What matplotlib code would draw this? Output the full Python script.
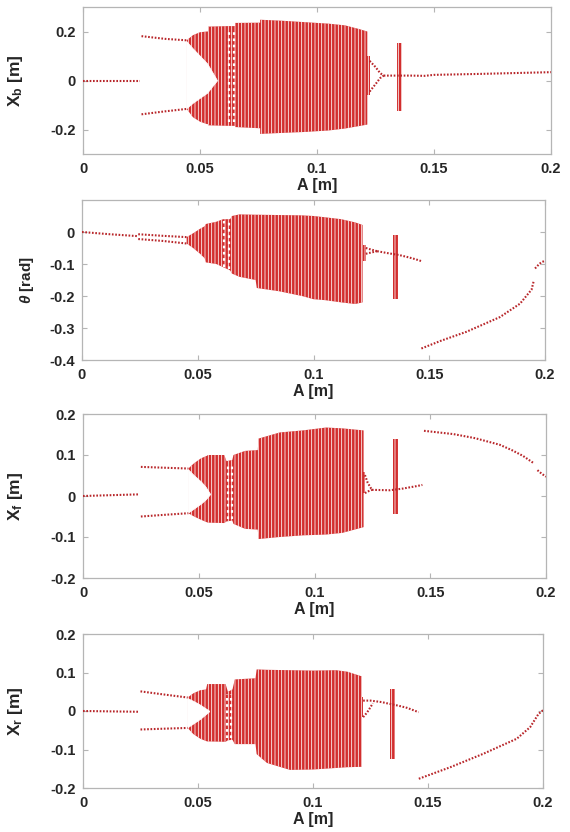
import matplotlib
matplotlib.use("Agg")
import matplotlib.pyplot as plt
import numpy as np

plt.rcParams['font.family'] = ['Liberation Sans', 'DejaVu Sans']
plt.rcParams['font.weight'] = 'bold'
plt.rcParams['mathtext.fontset'] = 'custom'
plt.rcParams['mathtext.rm'] = 'Liberation Sans:bold'
plt.rcParams['mathtext.it'] = 'Liberation Sans:italic'
plt.rcParams['mathtext.bf'] = 'Liberation Sans:bold'
plt.rcParams['hatch.color'] = 'white'
plt.rcParams['hatch.linewidth'] = 0.55

RED = '#d22e2e'
DOT = '#b8262a'
FRAME = '#b5b5b5'
TXT = '#262626'

X_TICKS = [0, 0.05, 0.1, 0.15, 0.2]
X_TICKLABELS = ['0', '0.05', '0.1', '0.15', '0.2']

# ---------------- Panel 1: X_b ----------------
XB_LABEL = r'X$_{\mathrm{b}}$ [m]'
XB_YLIM = (-0.3, 0.3)
XB_YTICKS = [-0.2, 0, 0.2]
XB_YTICKLABELS = ['-0.2', '0', '0.2']
XB_BAND_A = [0.0443, 0.047, 0.050, 0.053, 0.0535, 0.0535, 0.062, 0.065, 0.065, 0.0757, 0.0757, 0.085, 0.095, 0.105, 0.112, 0.118, 0.1215]
XB_BAND_HI = [0.164, 0.185, 0.197, 0.200, 0.200, 0.220, 0.222, 0.222, 0.235, 0.236, 0.248, 0.244, 0.238, 0.232, 0.225, 0.210, 0.200]
XB_BAND_LO = [-0.116, -0.150, -0.168, -0.178, -0.178, -0.183, -0.185, -0.185, -0.190, -0.195, -0.218, -0.214, -0.210, -0.204, -0.196, -0.186, -0.180]
XB_NOTCH_A = [0.0440, 0.047, 0.050, 0.053, 0.0555, 0.0572]
XB_NOTCH_HI = [0.162, 0.130, 0.100, 0.070, 0.030, 0.002]
XB_NOTCH_LO = [-0.114, -0.090, -0.070, -0.050, -0.020, 0.000]
XB_SPECKLE_A = [0.0625, 0.0645]
XB_SPECKLE_LO = [-0.17, -0.17]
XB_SPECKLE_HI = [0.21, 0.21]
XB_COLS_A = [[0.1212, 0.1228], [0.1340, 0.1365]]
XB_COLS_LO = [-0.06, -0.125]
XB_COLS_HI = [0.10, 0.155]
XB_BRANCHES = [
    ([0.0, 0.0245], [0.0, 0.0]),
    ([0.0250, 0.035, 0.0443], [0.181, 0.170, 0.164]),
    ([0.0250, 0.035, 0.0443], [-0.138, -0.126, -0.116]),
    ([0.1225, 0.125, 0.127, 0.1285], [0.080, 0.055, 0.030, 0.020]),
    ([0.1225, 0.125, 0.127, 0.1285], [-0.045, -0.015, 0.010, 0.020]),
    ([0.1285, 0.14, 0.146, 0.15, 0.17, 0.2], [0.020, 0.020, 0.019, 0.023, 0.027, 0.034]),
]

# ---------------- Panel 2: theta ----------------
TH_LABEL = r'$\theta$ [rad]'
TH_YLIM = (-0.4, 0.1)
TH_YTICKS = [-0.4, -0.3, -0.2, -0.1, 0]
TH_YTICKLABELS = ['-0.4', '-0.3', '-0.2', '-0.1', '0']
TH_BAND_A = [0.0452, 0.048, 0.051, 0.053, 0.0535, 0.058, 0.061, 0.064, 0.0648, 0.068, 0.075, 0.0755, 0.085, 0.095, 0.100, 0.105, 0.112, 0.118, 0.1212]
TH_BAND_HI = [-0.016, -0.004, 0.010, 0.018, 0.025, 0.032, 0.040, 0.040, 0.050, 0.055, 0.054, 0.054, 0.053, 0.052, 0.050, 0.046, 0.040, 0.030, 0.022]
TH_BAND_LO = [-0.036, -0.050, -0.068, -0.082, -0.095, -0.100, -0.110, -0.120, -0.130, -0.140, -0.150, -0.175, -0.185, -0.200, -0.210, -0.213, -0.220, -0.225, -0.220]
TH_NOTCH_A = []
TH_NOTCH_HI = []
TH_NOTCH_LO = []
TH_SPECKLE_A = [0.0615, 0.0635]
TH_SPECKLE_LO = [-0.11, -0.115]
TH_SPECKLE_HI = [0.035, 0.035]
TH_COLS_A = [[0.1212, 0.1226], [0.1343, 0.1365]]
TH_COLS_LO = [-0.090, -0.210]
TH_COLS_HI = [-0.042, -0.010]
TH_BRANCHES = [
    ([0.0, 0.012, 0.0243], [0.0, -0.007, -0.013]),
    ([0.0243, 0.035, 0.0452], [-0.007, -0.012, -0.016]),
    ([0.0243, 0.035, 0.0452], [-0.022, -0.028, -0.036]),
    ([0.1226, 0.125, 0.1275], [-0.050, -0.055, -0.060]),
    ([0.1226, 0.125, 0.1275], [-0.068, -0.064, -0.060]),
    ([0.1275, 0.132, 0.137, 0.141, 0.144, 0.1466], [-0.060, -0.066, -0.072, -0.079, -0.085, -0.091]),
    ([0.1466, 0.155, 0.166, 0.1805, 0.1892, 0.1942, 0.1952], [-0.364, -0.340, -0.312, -0.266, -0.224, -0.180, -0.151]),
    ([0.1957, 0.1975, 0.1986, 0.2], [-0.114, -0.100, -0.094, -0.090]),
]

# ---------------- Panel 3: X_f ----------------
XF_LABEL = r'X$_{\mathrm{f}}$ [m]'
XF_YLIM = (-0.2, 0.2)
XF_YTICKS = [-0.2, -0.1, 0, 0.1, 0.2]
XF_YTICKLABELS = ['-0.2', '-0.1', '0', '0.1', '0.2']
XF_BAND_A = [0.0455, 0.048, 0.051, 0.0535, 0.054, 0.061, 0.062, 0.0645, 0.065, 0.070, 0.0755, 0.0758, 0.085, 0.095, 0.105, 0.112, 0.1212]
XF_BAND_HI = [0.067, 0.080, 0.092, 0.098, 0.100, 0.100, 0.085, 0.088, 0.100, 0.110, 0.112, 0.140, 0.155, 0.160, 0.167, 0.165, 0.160]
XF_BAND_LO = [-0.042, -0.050, -0.058, -0.064, -0.065, -0.066, -0.062, -0.060, -0.068, -0.080, -0.082, -0.105, -0.100, -0.096, -0.094, -0.090, -0.076]
XF_NOTCH_A = [0.0452, 0.048, 0.051, 0.053, 0.0548]
XF_NOTCH_HI = [0.066, 0.050, 0.035, 0.022, 0.006]
XF_NOTCH_LO = [-0.041, -0.030, -0.018, -0.008, 0.004]
XF_SPECKLE_A = [0.0625, 0.0643]
XF_SPECKLE_LO = [-0.055, -0.055]
XF_SPECKLE_HI = [0.080, 0.080]
XF_COLS_A = [[0.1205, 0.1218], [0.1338, 0.1360]]
XF_COLS_LO = [0.007, -0.043]
XF_COLS_HI = [0.059, 0.138]
XF_BRANCHES = [
    ([0.0, 0.012, 0.0243], [0.0, 0.002, 0.004]),
    ([0.0250, 0.035, 0.0455], [0.071, 0.069, 0.067]),
    ([0.0250, 0.035, 0.0455], [-0.050, -0.046, -0.042]),
    ([0.1218, 0.123, 0.1248], [0.051, 0.032, 0.015]),
    ([0.1218, 0.123, 0.1248], [0.007, 0.011, 0.015]),
    ([0.1248, 0.1326, 0.138, 0.144, 0.1466], [0.015, 0.014, 0.018, 0.024, 0.027]),
    ([0.1473, 0.160, 0.1694, 0.180, 0.1852, 0.190, 0.1947], [0.159, 0.151, 0.141, 0.125, 0.112, 0.098, 0.080]),
    ([0.1963, 0.198, 0.2], [0.063, 0.055, 0.047]),
]

# ---------------- Panel 4: X_r ----------------
XR_LABEL = r'X$_{\mathrm{r}}$ [m]'
XR_YLIM = (-0.2, 0.2)
XR_YTICKS = [-0.2, -0.1, 0, 0.1, 0.2]
XR_YTICKLABELS = ['-0.2', '-0.1', '0', '0.1', '0.2']
XR_BAND_A = [0.0455, 0.048, 0.051, 0.0535, 0.054, 0.062, 0.063, 0.065, 0.066, 0.075, 0.0755, 0.080, 0.090, 0.100, 0.110, 0.115, 0.1212]
XR_BAND_HI = [0.035, 0.046, 0.054, 0.056, 0.070, 0.070, 0.050, 0.056, 0.082, 0.085, 0.108, 0.107, 0.106, 0.105, 0.106, 0.102, 0.090]
XR_BAND_LO = [-0.044, -0.060, -0.072, -0.078, -0.079, -0.080, -0.076, -0.075, -0.086, -0.086, -0.112, -0.135, -0.153, -0.152, -0.148, -0.146, -0.145]
XR_NOTCH_A = [0.0452, 0.048, 0.051, 0.053, 0.0548]
XR_NOTCH_HI = [0.034, 0.026, 0.016, 0.008, 0.001]
XR_NOTCH_LO = [-0.043, -0.032, -0.020, -0.010, -0.001]
XR_SPECKLE_A = [0.0625, 0.0643]
XR_SPECKLE_LO = [-0.07, -0.07]
XR_SPECKLE_HI = [0.045, 0.045]
XR_COLS_A = [[0.1206, 0.1218], [0.1335, 0.1356]]
XR_COLS_LO = [-0.016, -0.124]
XR_COLS_HI = [0.037, 0.056]
XR_BRANCHES = [
    ([0.0, 0.012, 0.0243], [0.0, -0.001, -0.002]),
    ([0.0250, 0.035, 0.0455], [0.051, 0.043, 0.035]),
    ([0.0250, 0.035, 0.0455], [-0.048, -0.046, -0.044]),
    ([0.1218, 0.125, 0.130, 0.1329, 0.137, 0.141, 0.1459], [0.027, 0.027, 0.023, 0.019, 0.014, 0.008, -0.003]),
    ([0.1218, 0.1235, 0.125, 0.126], [-0.016, -0.004, 0.010, 0.020]),
    ([0.146, 0.1597, 0.1741, 0.1886, 0.1944, 0.198, 0.2], [-0.176, -0.146, -0.111, -0.072, -0.042, -0.008, 0.002]),
]

PANELS = [
    dict(label=XB_LABEL, ylim=XB_YLIM, yt=XB_YTICKS, ytl=XB_YTICKLABELS,
         bandA=XB_BAND_A, bandHi=XB_BAND_HI, bandLo=XB_BAND_LO,
         notchA=XB_NOTCH_A, notchHi=XB_NOTCH_HI, notchLo=XB_NOTCH_LO,
         spA=XB_SPECKLE_A, spLo=XB_SPECKLE_LO, spHi=XB_SPECKLE_HI,
         colsA=XB_COLS_A, colsLo=XB_COLS_LO, colsHi=XB_COLS_HI,
         branches=XB_BRANCHES, rect=(83, 551, 7, 154), labx=25, labsize=12.5),
    dict(label=TH_LABEL, ylim=TH_YLIM, yt=TH_YTICKS, ytl=TH_YTICKLABELS,
         bandA=TH_BAND_A, bandHi=TH_BAND_HI, bandLo=TH_BAND_LO,
         notchA=TH_NOTCH_A, notchHi=TH_NOTCH_HI, notchLo=TH_NOTCH_LO,
         spA=TH_SPECKLE_A, spLo=TH_SPECKLE_LO, spHi=TH_SPECKLE_HI,
         colsA=TH_COLS_A, colsLo=TH_COLS_LO, colsHi=TH_COLS_HI,
         branches=TH_BRANCHES, rect=(82, 545, 200, 360), labx=36, labsize=11),
    dict(label=XF_LABEL, ylim=XF_YLIM, yt=XF_YTICKS, ytl=XF_YTICKLABELS,
         bandA=XF_BAND_A, bandHi=XF_BAND_HI, bandLo=XF_BAND_LO,
         notchA=XF_NOTCH_A, notchHi=XF_NOTCH_HI, notchLo=XF_NOTCH_LO,
         spA=XF_SPECKLE_A, spLo=XF_SPECKLE_LO, spHi=XF_SPECKLE_HI,
         colsA=XF_COLS_A, colsLo=XF_COLS_LO, colsHi=XF_COLS_HI,
         branches=XF_BRANCHES, rect=(83, 546, 414, 578), labx=25, labsize=12.5),
    dict(label=XR_LABEL, ylim=XR_YLIM, yt=XR_YTICKS, ytl=XR_YTICKLABELS,
         bandA=XR_BAND_A, bandHi=XR_BAND_HI, bandLo=XR_BAND_LO,
         notchA=XR_NOTCH_A, notchHi=XR_NOTCH_HI, notchLo=XR_NOTCH_LO,
         spA=XR_SPECKLE_A, spLo=XR_SPECKLE_LO, spHi=XR_SPECKLE_HI,
         colsA=XR_COLS_A, colsLo=XR_COLS_LO, colsHi=XR_COLS_HI,
         branches=XR_BRANCHES, rect=(83, 543, 634, 788), labx=25, labsize=12.5),
]

W, H = 570, 832
fig = plt.figure(figsize=(W / 100, H / 100), dpi=100)

for p in PANELS:
    l, r, t, b = p['rect']
    ax = fig.add_axes([l / W, 1 - b / H, (r - l) / W, (b - t) / H])
    # chaotic band
    ax.fill_between(p['bandA'], p['bandLo'], p['bandHi'], facecolor=RED,
                    edgecolor='white', hatch='|||||', linewidth=0, zorder=2)
    if len(p['notchA']):
        ax.fill_between(p['notchA'], p['notchLo'], p['notchHi'], facecolor='white',
                        edgecolor='white', linewidth=0.6, zorder=3)
    ax.vlines(p['spA'], p['spLo'], p['spHi'], colors='white', linestyles=(0, (1.2, 1.6)),
              linewidth=1.6, zorder=4)
    for ca, clo, chi in zip(p['colsA'], p['colsLo'], p['colsHi']):
        ax.fill_between(ca, [clo] * len(ca), [chi] * len(ca), facecolor=RED,
                        edgecolor='white', hatch='|||||', linewidth=0, zorder=2)
    for bx, by in p['branches']:
        ax.plot(bx, by, color=DOT, linestyle=(0, (0.8, 0.8)), linewidth=1.5, zorder=5)

    ax.set_xlim(0, 0.2)
    ax.set_ylim(*p['ylim'])
    ax.set_xticks(X_TICKS)
    ax.set_xticklabels(X_TICKLABELS)
    ax.set_yticks(p['yt'])
    ax.set_yticklabels(p['ytl'])
    ax.tick_params(direction='in', length=3.5, width=0.8, color=FRAME,
                   labelsize=10.5, labelcolor=TXT, top=True, right=True, pad=5)
    ax.tick_params(axis='x', pad=6)
    for lab in ax.get_xticklabels() + ax.get_yticklabels():
        lab.set_fontweight('bold')
    for sp in ax.spines.values():
        sp.set_color(FRAME)
        sp.set_linewidth(0.9)
    ax.set_xlabel('A [m]', fontsize=11.5, fontweight='bold', color=TXT, labelpad=1)
    ax.set_ylabel(p['label'], fontsize=p['labsize'], fontweight='bold', color=TXT)
    ax.yaxis.set_label_coords((p['labx'] - l) / (r - l), 0.5)

fig.savefig('out.png', dpi=100)
